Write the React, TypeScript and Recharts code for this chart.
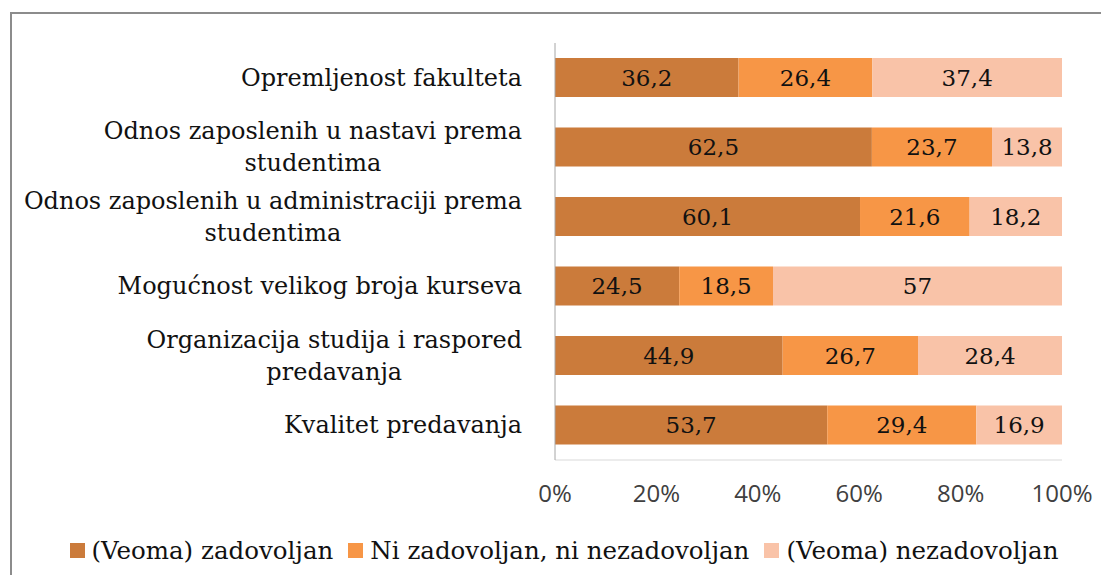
import React from "react";
import {
    BarChart,
    Bar,
    XAxis,
    YAxis,
    Legend,
    LabelList,
} from "recharts";

const categories = [
    "Opremljenost fakulteta",
    "Odnos zaposlenih u nastavi prema studentima",
    "Odnos zaposlenih u administraciji prema studentima",
    "Mogućnost velikog broja kurseva",
    "Organizacija studija i raspored predavanja",
    "Kvalitet predavanja",
];

// how Excel wrapped the category labels
const categoryLines = [
    ["Opremljenost fakulteta"],
    ["Odnos zaposlenih u nastavi prema", "studentima"],
    ["Odnos zaposlenih u administraciji prema", "studentima"],
    ["Mogućnost velikog broja kurseva"],
    ["Organizacija studija i raspored", "predavanja"],
    ["Kvalitet predavanja"],
];

const zadovoljan = [36.2, 62.5, 60.1, 24.5, 44.9, 53.7];
const neutralan = [26.4, 23.7, 21.6, 18.5, 26.7, 29.4];
const nezadovoljan = [37.4, 13.8, 18.2, 57, 28.4, 16.9];

const seriesNames = [
    "(Veoma) zadovoljan",
    "Ni zadovoljan, ni nezadovoljan",
    "(Veoma) nezadovoljan",
];
const seriesColors = ["#cb7b3b", "#f79646", "#f9c3a8"];

const xTicks = [0, 0.2, 0.4, 0.6, 0.8, 1];

const data = categories.map((name, i) => ({
    name,
    zadovoljan: zadovoljan[i],
    neutralan: neutralan[i],
    nezadovoljan: nezadovoljan[i],
}));

const SERIF = "'DejaVu Serif', serif";
const LABEL_SIZE = 24;
const VALUE_SIZE = 23;

let ctx: CanvasRenderingContext2D | null = null;
function measure(text: string) {
    if (!ctx) ctx = document.createElement("canvas").getContext("2d");
    if (!ctx) return text.length * LABEL_SIZE * 0.55;
    ctx.font = `${LABEL_SIZE}px 'DejaVu Serif'`;
    return ctx.measureText(text).width;
}

function CategoryTick({ x, y, payload }: any) {
    const idx = categories.indexOf(payload.value);
    const lines = categoryLines[idx] || [payload.value];
    const block = Math.max(...lines.map(measure));
    const cx = x - block / 2;
    const n = lines.length;
    return (
        <g>
            {lines.map((line, k) => (
                <text
                    key={k}
                    x={cx}
                    y={y + (k - (n - 1) / 2) * 32 + 8}
                    textAnchor="middle"
                    fontFamily={SERIF}
                    fontSize={LABEL_SIZE}
                    fill="#111"
                >
                    {line}
                </text>
            ))}
        </g>
    );
}

function LegendContent() {
    return (
        <div
            style={{
                height: 50,
                boxSizing: "border-box",
                paddingTop: 4,
                paddingLeft: 66,
                display: "flex",
                justifyContent: "center",
                alignItems: "center",
                gap: 15,
                fontFamily: SERIF,
                fontSize: 24.5,
                color: "#111",
            }}
        >
            {seriesNames.map((s, i) => (
                <div key={s} style={{ display: "flex", alignItems: "center", gap: 7 }}>
                    <span style={{ width: 15, height: 15, background: seriesColors[i], display: "inline-block" }} />
                    <span>{s}</span>
                </div>
            ))}
        </div>
    );
}

const fmt = (v: any) => String(v).replace(".", ",");

export default function App() {
    return (
        <div style={{ margin: -8, width: 1109, height: 583, position: "relative", overflow: "hidden", background: "#fff" }}>
            <div
                style={{
                    position: "absolute",
                    left: 10,
                    top: 12,
                    width: 1130,
                    height: 600,
                    border: "2px solid #8c8c8c",
                }}
            />
            <div style={{ position: "absolute", left: 0, top: 0 }}>
                <BarChart
                    width={1109}
                    height={583}
                    data={data}
                    layout="vertical"
                    stackOffset="expand"
                    barSize={39}
                    margin={{ top: 43, right: 47, bottom: 10, left: 0 }}
                >
                    <XAxis
                        type="number"
                        domain={[0, 1]}
                        ticks={xTicks}
                        tickFormatter={(v) => `${Math.round(v * 100)}%`}
                        axisLine={{ stroke: "#d9d9d9" }}
                        tickLine={false}
                        height={63}
                        tickMargin={19}
                        tick={{ fontFamily: "'Open Sans', sans-serif", fontSize: 24, fill: "#404040" }}
                    />
                    <YAxis
                        type="category"
                        dataKey="name"
                        width={555}
                        axisLine={{ stroke: "#a6a6a6" }}
                        tickLine={false}
                        tickMargin={27}
                        tick={<CategoryTick />}
                    />
                    <Legend verticalAlign="bottom" content={<LegendContent />} />
                    <Bar dataKey="zadovoljan" name={seriesNames[0]} stackId="a" fill={seriesColors[0]} isAnimationActive={false}>
                        <LabelList dataKey="zadovoljan" position="center" formatter={fmt} fill="#111" fontFamily={SERIF} fontSize={VALUE_SIZE} />
                    </Bar>
                    <Bar dataKey="neutralan" name={seriesNames[1]} stackId="a" fill={seriesColors[1]} isAnimationActive={false}>
                        <LabelList dataKey="neutralan" position="center" formatter={fmt} fill="#111" fontFamily={SERIF} fontSize={VALUE_SIZE} />
                    </Bar>
                    <Bar dataKey="nezadovoljan" name={seriesNames[2]} stackId="a" fill={seriesColors[2]} isAnimationActive={false}>
                        <LabelList dataKey="nezadovoljan" position="center" formatter={fmt} fill="#111" fontFamily={SERIF} fontSize={VALUE_SIZE} />
                    </Bar>
                </BarChart>
            </div>
        </div>
    );
}
